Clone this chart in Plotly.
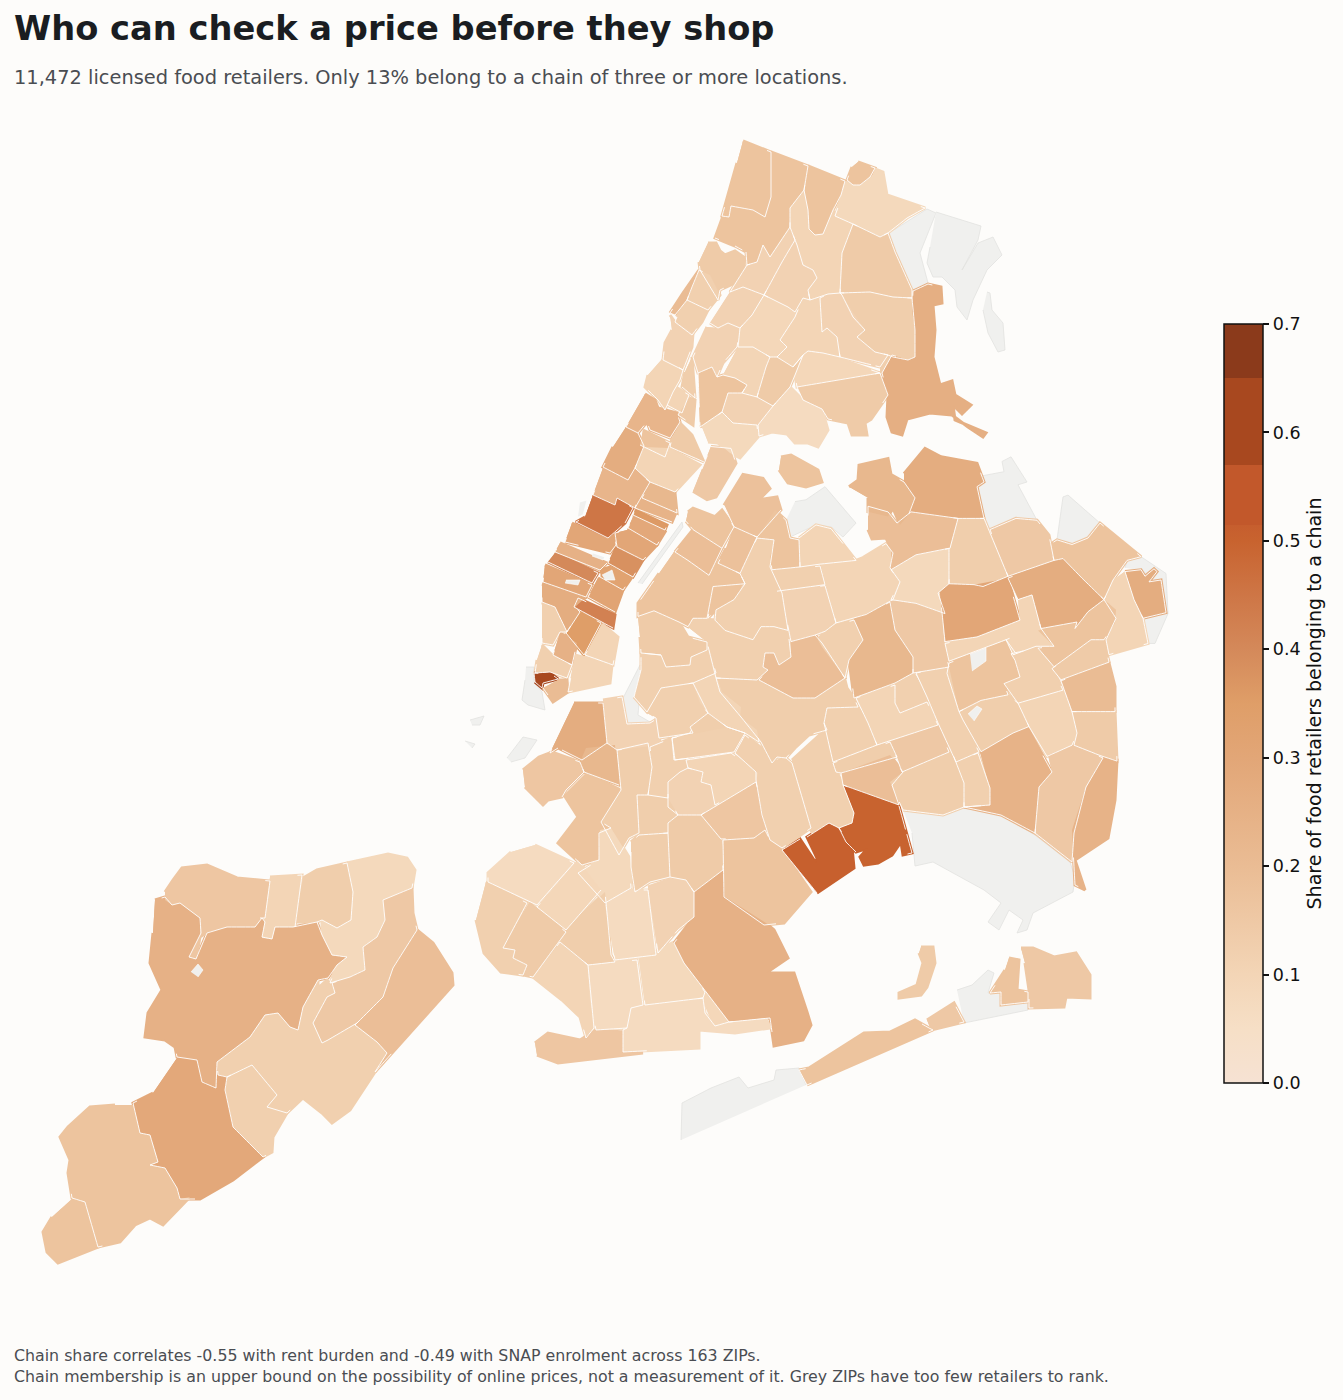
import math
import plotly.graph_objects as go

# share of chain retailers per ZIP, outlines (page pixels)
BRONX = [
    (0.17, "743,141 771,152 771,197 765,217 753,210 731,206 729,217 722,216 737,163"),
    (0.17, "771,152 808,166 804,190 790,208 790,227 770,257 763,245 757,262 747,265 746,252 735,246 715,238 723,216 731,206 753,210 765,217 771,197"),
    (0.17, "808,166 845,181 841,195 833,210 823,234 815,235 809,229 808,210 804,190"),
    (0.17, "858,162 875,168 870,177 860,185 853,185 847,180 852,167"),
    (0.08, "875,169 883,172 887,195 925,208 907,218 888,233 880,237 853,224 835,216 842,196 843,185 848,182 853,186 862,185 872,177"),
    (0.14, "853,224 880,237 888,233 895,252 912,290 912,298 893,297 870,292 840,293 842,253"),
    (0.10, "804,190 808,210 809,229 815,235 823,234 833,210 835,216 853,224 842,253 840,293 828,294 810,300 808,290 817,278 813,270 803,265 797,245 790,227 790,208"),
    (0.11, "790,227 795,240 782,262 764,295 743,287 730,292 747,265 757,262 763,245 770,257"),
    (0.11, "795,240 803,265 813,270 817,278 808,290 810,300 803,298 795,312 788,307 764,295 782,262"),
    (0.13, "840,293 870,292 893,297 912,298 915,330 915,357 908,360 893,357 888,355 875,352 857,337 865,330 853,317 842,295"),
    (0.11, "820,298 828,294 840,293 865,330 857,337 875,352 888,355 880,367 840,357 837,337 827,328 822,332"),
    (0.10, "803,298 820,298 822,332 827,328 837,337 840,357 823,353 808,351 803,355 793,367 777,357 787,347 780,340 795,317"),
    (0.09, "764,295 795,312 793,318 780,340 787,347 777,357 770,357 753,347 738,347 740,328 752,315"),
    (0.11, "730,292 743,287 764,295 752,315 740,328 728,323 718,328 710,323"),
    (0.11, "718,328 728,323 740,328 737,347 723,363 717,377 712,367 698,373 693,357 707,327"),
    (0.17, "698,373 712,367 717,377 723,375 735,378 747,385 742,393 728,393 722,412 700,427"),
    (0.10, "738,347 753,347 770,357 766,367 757,397 742,393 747,385 735,378 723,375"),
    (0.14, "770,357 777,357 793,367 803,355 795,375 790,387 773,406 757,397 766,367"),
    (0.09, "808,351 823,353 880,373 797,387 795,375 803,355"),
    (0.14, "797,387 880,373 888,395 880,407 872,418 860,410 870,420 865,423 867,435 852,435 848,423 828,419 822,409 803,400"),
    (0.26, "913,291 928,284 941,287 942,303 933,305 935,330 933,357 940,385 952,381 955,395 971,405 962,414 953,405 955,420 986,433 983,437 968,427 952,415 930,413 907,419 902,435 892,432 887,417 888,395 882,373 892,355 908,360 915,357 915,330 912,310"),
    (0.13, "880,367 888,355 892,355 882,373 880,373"),
    (0.07, "758,425 773,406 790,387 803,400 822,409 828,430 818,447 808,443 795,443 787,434 772,432 759,436"),
    (0.08, "702,427 722,412 733,423 757,425 758,437 740,458 730,453 718,443 708,442"),
    (0.11, "722,412 728,393 742,393 757,397 773,406 757,425 733,423"),
]

MANHATTAN = [
    (0.14, "708,243 716,243 720,251 725,255 735,251 745,258 743,270 735,283 720,290 718,300 712,290 700,270 699,262"),
    (0.12, "699,270 710,275 720,295 708,310 687,300 692,287"),
    (0.20, "670,313 683,293 699,270 692,287 687,300 675,315"),
    (0.12, "677,317 687,300 708,310 702,322 692,335 675,322"),
    (0.11, "670,315 675,322 693,333 692,347 683,370 663,360 665,343 672,330"),
    (0.10, "663,358 683,370 680,380 673,392 665,410 658,400 645,387 648,375"),
    (0.13, "692,357 695,398 682,387 685,372"),
    (0.10, "674,386 689,395 682,413 667,405"),
    (0.14, "689,398 695,400 693,425 678,415"),
    (0.23, "645,394 655,400 658,408 665,410 677,413 680,422 670,438 650,430 647,422 638,433 626,427"),
    (0.27, "626,427 638,433 644,446 635,468 628,480 603,467 613,447"),
    (0.17, "643,430 670,443 665,457 640,445"),
    (0.14, "680,423 692,435 704,462 670,447 672,438"),
    (0.10, "644,447 668,448 700,465 675,492 650,482 635,468"),
    (0.23, "603,468 628,480 635,470 650,482 635,508 617,498 615,505 593,495"),
    (0.22, "650,483 675,493 677,513 642,498"),
    (0.45, "593,495 615,505 617,498 633,508 625,523 608,538 576,522 585,517"),
    (0.24, "638,498 675,515 672,522 635,508"),
    (0.36, "635,510 667,525 665,530 633,515"),
    (0.29, "633,517 665,532 657,545 628,528"),
    (0.30, "627,530 657,545 643,560 617,547 615,533"),
    (0.30, "572,523 608,540 615,535 616,545 610,553 565,542"),
    (0.38, "615,547 643,560 633,577 608,563"),
    (0.25, "560,543 607,563 600,570 555,552"),
    (0.40, "555,553 598,573 592,583 548,562"),
    (0.32, "600,570 610,567 632,577 623,590 600,577"),
    (0.30, "545,565 592,585 586,597 543,582"),
    (0.31, "598,578 623,590 615,612 588,597"),
    (0.42, "578,598 615,615 613,628 574,607"),
    (0.27, "542,584 585,598 575,607 580,612 567,632 555,607 542,602"),
    (0.35, "580,612 601,623 584,655 566,633"),
    (0.12, "542,603 555,608 567,632 560,632 553,645 542,643"),
    (0.25, "560,633 577,643 572,665 553,655"),
    (0.10, "602,624 618,637 613,665 585,655"),
    (0.12, "542,645 553,656 572,665 567,678 550,672 535,673 537,660"),
    (0.10, "575,655 612,665 610,683 568,692"),
    (0.65, "534,673 547,674 550,673 558,679 543,683 542,688 535,682"),
    (0.20, "558,680 567,680 568,692 553,702 543,688"),
]

QUEENS_NORTH = [
    (0.15, "711,447 731,449 736,465 716,501 707,504 693,495"),
    (0.18, "724,510 743,477 763,481 770,492 759,504 777,501 781,515 757,544 734,533"),
    (0.17, "688,517 693,513 715,522 722,515 734,533 722,556 693,536 686,527"),
    (0.19, "675,560 693,536 722,556 709,585 688,569"),
    (0.18, "734,533 757,544 740,583 718,572 726,556"),
    (0.17, "674,560 688,569 709,585 718,572 740,583 745,594 713,597 707,631 693,631 688,640 679,635 654,623 638,629 638,615 659,583"),
    (0.12, "757,545 774,547 770,576 782,604 788,644 774,640 761,640 753,654 725,644 715,633 716,622 734,611 745,594 740,583"),
    (0.17, "713,597 743,590 734,611 716,622 708,631"),
    (0.17, "775,515 786,526 790,545 799,547 800,576 772,579 770,565 775,547 757,544"),
    (0.10, "799,545 816,531 831,535 843,551 856,569 820,573 800,576"),
    (0.12, "772,581 820,575 825,595 777,602"),
    (0.11, "782,602 825,596 836,636 825,645 815,649 791,656 786,629"),
    (0.10, "821,574 856,569 863,566 886,551 893,561 890,577 900,592 893,611 866,627 836,636"),
    (0.08, "891,579 916,563 949,556 949,594 938,604 945,626 916,615 891,611 900,592"),
    (0.19, "868,511 888,517 897,529 911,517 958,524 950,556 916,563 891,578 891,556 886,545 872,546 868,536"),
    (0.22, "849,490 858,483 859,467 888,460 891,477 904,485 915,502 909,519 900,531 893,513 888,522 868,517 868,502"),
    (0.27, "904,476 925,449 941,458 977,465 984,485 977,490 984,524 958,524 911,517 915,502 904,485"),
    (0.13, "958,524 984,524 1008,586 983,597 974,595 949,594 950,554"),
    (0.15, "990,536 1016,524 1037,526 1049,542 1054,569 1008,586"),
    (0.17, "1050,552 1057,547 1072,552 1088,545 1100,529 1141,565 1127,569 1113,590 1104,611 1082,588 1063,567 1054,569"),
    (0.27, "1125,581 1141,579 1145,586 1154,578 1157,581 1149,592 1161,590 1166,625 1143,631 1134,611"),
    (0.10, "1125,581 1134,611 1143,631 1148,658 1109,670 1106,654 1116,631 1104,611 1113,590"),
    (0.27, "1008,588 1054,569 1063,567 1082,588 1104,611 1088,624 1075,642 1077,635 1041,642 1032,606 1018,611"),
    (0.30, "940,604 949,594 974,595 1008,588 1020,633 977,651 945,656"),
    (0.10, "1018,611 1032,606 1041,642 1054,661 1036,661 1016,669 1006,654 949,677 945,658 977,651 1020,633"),
    (0.17, "1038,644 1077,635 1075,642 1088,624 1104,611 1116,622 1115,636 1104,654 1091,654 1054,683 1038,663 1054,661"),
    (0.14, "1052,685 1091,654 1104,654 1109,678 1061,697"),
    (0.20, "1061,698 1109,679 1115,704 1115,731 1072,731"),
    (0.14, "1072,731 1115,731 1117,784 1100,778 1074,767 1077,754"),
    (0.12, "1011,669 1036,663 1049,676 1063,708 1018,722 1004,701 1020,694 1015,676"),
    (0.10, "1006,654 1013,651 1018,669 1013,670"),
    (0.17, "949,679 1006,656 1020,694 1004,701 1008,713 981,719 959,731 947,690"),
    (0.13, "959,731 981,719 1008,713 1018,722 1029,747 1013,754 981,774 963,740"),
    (0.10, "1018,722 1063,708 1077,754 1072,767 1047,779 1029,747"),
]

QUEENS_SOUTH = [
    (0.17, "781,457 791,455 818,470 822,482 806,487 788,483 779,470"),
    (0.14, "638,617 654,611 679,622 688,637 707,642 707,650 691,657 690,665 666,667 661,655 641,653 640,637"),
    (0.12, "688,627 693,618 715,620 725,630 753,640 761,627 788,630 791,657 779,665 774,653 765,653 763,667 768,670 757,680 716,678 707,642"),
    (0.19, "791,642 815,635 822,643 845,678 815,698 793,698 759,680 768,670 763,667 765,653 774,653 779,665 791,657"),
    (0.12, "818,640 827,628 854,620 863,640 849,660 845,678 822,647"),
    (0.22, "854,620 890,602 895,630 913,657 913,673 895,683 854,698 849,660 863,640"),
    (0.15, "891,602 916,603 941,613 943,643 949,667 913,673 913,657 895,630"),
    (0.12, "916,673 949,667 959,712 979,752 956,762 938,723 927,697"),
    (0.10, "856,698 895,685 895,703 900,713 927,702 938,725 877,745 868,723"),
    (0.12, "895,685 913,673 927,697 927,702 900,713 895,703"),
    (0.13, "716,678 759,680 793,698 815,698 845,680 847,688 854,698 858,707 827,708 824,723 827,730 809,735 795,748 786,758 777,757 772,763 761,742 741,717 720,692"),
    (0.12, "827,708 858,707 868,723 877,745 833,762 824,723"),
    (0.13, "833,763 890,742 897,757 841,773 836,772"),
    (0.15, "891,742 938,725 949,752 902,772"),
    (0.19, "841,773 890,755 903,772 892,785 899,805 843,785"),
    (0.13, "890,782 903,772 952,752 964,783 964,807 943,815 903,810"),
    (0.12, "956,762 978,753 990,788 990,805 964,807 964,783"),
    (0.24, "980,752 1027,727 1052,772 1039,787 1035,833 1001,815 964,807 990,805 990,788"),
    (0.15, "1048,755 1074,745 1103,758 1086,787 1074,833 1072,862 1035,833 1039,787 1052,772"),
    (0.24, "1103,758 1117,760 1115,800 1108,838 1075,860 1085,890 1075,885 1072,830 1085,790"),
    (0.50, "843,785 899,806 912,853 903,855 901,842 892,855 878,863 864,865 860,857 868,848 856,852 846,842 839,828 852,823 854,813"),
    (0.51, "782,850 800,839 816,863 817,858 807,837 829,823 839,828 852,847 854,868 817,893"),
    (0.17, "799,1070 809,1068 864,1033 890,1032 915,1020 929,1028 933,1030 807,1085"),
    (0.15, "927,1020 954,1003 964,1022 931,1030"),
    (0.14, "921,947 933,947 935,963 927,987 921,995 899,998 899,993 917,985 923,963 919,953"),
    (0.17, "1009,958 1019,960 1017,990 1028,992 1028,1002 1001,1005 1001,992 990,993 1005,970"),
    (0.15, "1021,948 1033,948 1054,957 1076,953 1090,975 1090,998 1066,997 1064,1007 1029,1008 1029,990 1025,963"),
]

BROOKLYN = [
    (0.12, "641,670 641,653 661,655 666,667 690,665 691,657 709,650 716,673 693,683 661,688 647,712 634,697"),
    (0.12, "647,713 661,688 693,683 708,713 690,727 693,733 659,738 656,718"),
    (0.10, "693,683 716,675 722,692 741,707 740,717 757,730 759,742 745,733 727,727 708,713 700,703"),
    (0.13, "672,738 690,733 693,727 708,713 727,727 745,733 734,752 675,760"),
    (0.12, "735,753 745,735 764,750 772,763 786,758 792,763 811,828 782,848 770,840 762,815 756,780 756,772"),
    (0.12, "792,760 825,730 833,763 843,785 854,813 852,823 839,828 829,823 812,832 800,813"),
    (0.17, "723,840 754,838 765,830 770,840 782,850 811,892 784,923 764,925 724,897"),
    (0.16, "701,815 756,782 766,830 754,838 721,839"),
    (0.10, "686,760 731,753 758,773 756,782 715,805 711,785 701,782 703,772 688,768"),
    (0.12, "672,738 729,727 745,735 731,753 674,760"),
    (0.11, "680,772 688,768 703,772 701,782 711,785 715,805 701,815 678,815 668,807 668,782"),
    (0.13, "617,750 648,743 652,767 648,795 637,795 639,833 629,838 619,855 601,822 621,790"),
    (0.12, "650,747 672,738 674,760 686,760 688,768 680,772 668,782 668,798 648,795 652,767"),
    (0.27, "574,703 603,703 607,743 582,760 558,748 550,753"),
    (0.11, "603,700 622,697 627,724 650,723 658,718 660,745 617,750 607,743"),
    (0.16, "523,770 539,757 552,752 580,762 584,772 566,790 562,797 548,800 543,805 525,787"),
    (0.22, "586,748 615,745 619,785 584,772 580,762"),
    (0.17, "586,773 621,790 601,822 611,828 599,833 599,860 582,865 558,843 578,817 564,795"),
    (0.13, "631,842 639,835 668,833 670,877 650,882 635,892 631,867"),
    (0.13, "637,795 668,798 678,815 668,823 668,833 639,835"),
    (0.14, "678,815 701,815 721,839 723,870 694,892 686,880 670,877 668,823"),
    (0.08, "600,830 611,828 629,857 631,888 605,903 578,873 599,860"),
    (0.07, "535,845 574,863 537,905 488,882 488,873 511,852"),
    (0.09, "578,860 601,890 566,930 537,907"),
    (0.12, "486,882 527,903 511,933 503,948 515,950 513,958 527,965 523,975 501,972 484,953 476,920"),
    (0.14, "529,903 566,932 533,977 523,975 527,965 513,958 515,950 503,948 511,933"),
    (0.10, "560,942 588,965 594,1028 586,1038 580,1017 562,1000 533,977"),
    (0.13, "566,930 605,892 611,955 615,962 588,965 560,942"),
    (0.07, "605,905 631,890 648,890 656,955 615,960"),
    (0.11, "648,887 668,880 686,880 694,892 694,917 678,930 658,953"),
    (0.25, "694,893 723,872 725,897 766,923 774,930 788,958 766,973 794,973 807,1012 811,1025 803,1040 774,1046 770,1018 729,1022 684,963 674,943 694,917"),
    (0.07, "588,965 637,960 643,1005 631,1008 627,1028 596,1030 590,1000"),
    (0.08, "639,960 672,943 684,963 705,992 703,998 645,1005"),
    (0.07, "631,1008 703,998 705,1013 715,1026 729,1022 766,1018 770,1028 735,1033 699,1030 699,1048 623,1052 623,1030 627,1028"),
    (0.09, "705,992 729,1022 715,1026 703,998"),
    (0.16, "535,1043 548,1033 580,1040 596,1030 623,1032 623,1052 643,1053 558,1063 537,1055"),
]

STATEN_ISLAND = [
    (0.25, "155,900 165,897 172,905 180,903 200,918 201,933 189,957 196,959 207,933 227,927 255,927 262,918 265,922 262,937 272,939 275,927 293,927 317,922 322,935 332,955 347,957 337,965 328,978 318,980 303,1007 298,1030 290,1027 278,1013 265,1015 250,1037 217,1062 216,1088 202,1082 197,1060 177,1057 175,1047 165,1040 145,1037 148,1013 162,990 150,963 153,933"),
    (0.16, "165,892 173,880 182,868 207,865 237,878 270,881 265,918 260,918 255,927 227,927 210,930 200,937 196,959 189,957 200,937 200,918 180,903 172,905 165,900"),
    (0.10, "270,877 302,875 295,927 275,927 272,939 262,938 265,918"),
    (0.13, "303,878 317,870 347,863 353,892 351,920 337,928 322,920 317,922 295,922"),
    (0.08, "347,863 388,854 407,858 415,870 412,888 395,895 383,900 385,920 377,937 363,947 365,970 350,977 330,983 337,965 347,957 332,955 322,935 322,920 337,928 351,920 353,892"),
    (0.15, "395,895 412,888 413,913 417,930 393,968 383,997 357,1023 328,1040 322,1043 313,1023 327,997 335,993 332,983 350,977 365,970 363,947 377,937 385,920 383,900"),
    (0.19, "417,930 433,943 452,973 453,985 375,1072 387,1053 377,1042 355,1025 383,997 393,968"),
    (0.12, "217,1063 250,1037 265,1015 278,1013 290,1027 298,1030 303,1007 318,980 318,988 327,980 335,993 327,997 313,1023 322,1043 355,1025 377,1042 387,1053 375,1072 350,1110 332,1123 322,1113 303,1098 287,1113 267,1107 277,1095 252,1065 227,1077 218,1075"),
    (0.12, "227,1077 252,1065 277,1095 267,1107 287,1113 273,1137 272,1152 263,1157 243,1137 233,1127 225,1090"),
    (0.29, "177,1058 197,1060 202,1082 216,1088 218,1075 227,1077 225,1090 233,1127 243,1137 263,1157 233,1180 200,1199 180,1199 177,1188 165,1168 150,1165 158,1162 150,1135 140,1133 133,1103 153,1093"),
    (0.17, "133,1105 140,1133 150,1135 158,1162 150,1165 165,1168 177,1188 180,1199 190,1197 163,1225 150,1218 135,1225 120,1242 98,1247 85,1202 72,1198 68,1173 70,1160 60,1137 68,1127 90,1107 115,1105"),
    (0.17, "72,1199 85,1202 98,1247 77,1255 58,1263 47,1252 43,1232 52,1217"),
]

# too few retailers to rank
GREY_NORTH = [
    "795,506 806,504 825,490 856,529 843,544 831,533 816,531 790,544 786,526",
    "979,479 1004,474 1002,463 1011,458 1027,485 1018,488 1037,526 1016,524 990,536 984,522 977,490",
    "1057,547 1063,501 1068,499 1100,529 1088,545 1072,552",
    "1125,577 1127,569 1141,565 1166,583 1168,626 1155,658 1148,658 1143,631 1166,625 1161,590 1152,590 1143,580",
]
GREY_OTHER = [
    "889,233 927,209 936,213 920,253 928,283 913,291 895,252",
    "936,212 981,226 978,240 962,270 978,243 993,237 1002,255 987,270 973,300 967,320 957,307 955,290 942,277 933,277 927,263 930,247",
    "987,292 990,293 992,310 1003,323 1005,350 998,352 988,333 983,310",
    "526,667 534,667 534,682 542,692 545,710 528,705 522,700 525,680",
    "470,720 484,716 480,725 472,725",
    "465,741 475,744 472,748",
    "507,758 523,737 537,740 525,758 511,762",
    "638,583 682,522 683,527 642,584",
    "643,597 648,587 653,588 652,598",
    "622,700 640,665 652,650 655,655 640,690 638,715 650,722 627,724",
    "903,810 943,815 948,807 964,807 1001,815 1035,835 1070,862 1075,877 1073,892 1033,913 1027,930 1017,933 1023,920 1009,910 999,930 988,922 1001,903 984,890 933,862 915,866 912,833",
    "681,1140 682,1103 711,1088 739,1077 748,1088 774,1080 776,1070 799,1068 806,1085",
    "957,990 972,985 988,970 994,973 988,993 1001,992 1001,1005 1028,1002 1028,1010 964,1023",
]
# small unranked ZIPs inside ranked ones, these go on top
GREY_HOLES = [
    "191,972 198,964 203,970 198,977",
    "580,502 587,500 583,515 578,517",
    "593,553 605,557 603,560 592,556",
    "566,580 580,580 578,585 565,583",
    "602,575 612,570 615,580 605,580",
    "970,654 986,648 986,661 972,671",
    "968,714 977,706 982,709 974,721",
]

SCALE_VALUES = [0, 0.05, 0.1, 0.2, 0.3, 0.35, 0.4, 0.45, 0.5, 0.515, 0.515, 0.57, 0.57, 0.65, 0.65, 0.7]
SCALE_COLORS = ["#F6E2D3", "#F6DFC6", "#F3D5B6", "#EABC94", "#E2A677", "#DF9E68", "#D4895A", "#CE7646",
                "#C8632F", "#C65E2E", "#C2582B", "#C2582B", "#A8481F", "#A8481F", "#8B3A1B", "#8B3A1B"]
TICKS = [0, 0.1, 0.2, 0.3, 0.4, 0.5, 0.6, 0.7]

TITLE = "Who can check a price before they shop"
SUBTITLE = "11,472 licensed food retailers. Only 13% belong to a chain of three or more locations."
FOOT1 = "Chain share correlates -0.55 with rent burden and -0.49 with SNAP enrolment across 163 ZIPs."
FOOT2 = "Chain membership is an upper bound on the possibility of online prices, not a measurement of it. Grey ZIPs have too few retailers to rank."

W = 1343
H = 1400
BG = "#FDFCFA"
NEAR = 5
scale = [[v / 0.7, c] for v, c in zip(SCALE_VALUES, SCALE_COLORS)]


def parse(s):
    xs, ys = [], []
    for p in s.split():
        x, y = p.split(",")
        xs.append(float(x))
        ys.append(float(y))
    return xs, ys


def unstretch(ys):
    return [440 + (y - 440) * 2.8 / 3 for y in ys]


def color_for(v):
    # same lookup the colorbar does, stop to stop
    for i in range(len(SCALE_VALUES) - 1):
        a, b = SCALE_VALUES[i], SCALE_VALUES[i + 1]
        if a <= v <= b and b > a:
            t = (v - a) / (b - a)
            c1, c2 = SCALE_COLORS[i], SCALE_COLORS[i + 1]
            rgb = [round(int(c1[j:j + 2], 16) * (1 - t) + int(c2[j:j + 2], 16) * t) for j in (1, 3, 5)]
            return "rgb(%d,%d,%d)" % tuple(rgb)
    return SCALE_COLORS[-1]


def is_near(px, py, xs, ys):
    # inside the polygon, or within NEAR pixels of its edge
    if px < min(xs) - NEAR or px > max(xs) + NEAR or py < min(ys) - NEAR or py > max(ys) + NEAR:
        return False
    inside = False
    n = len(xs)
    for k in range(n):
        x1, y1, x2, y2 = xs[k], ys[k], xs[(k + 1) % n], ys[(k + 1) % n]
        if (y1 > py) != (y2 > py) and px < x1 + (py - y1) / (y2 - y1) * (x2 - x1):
            inside = not inside
        dx, dy = x2 - x1, y2 - y1
        t = max(0, min(1, ((px - x1) * dx + (py - y1) * dy) / (dx * dx + dy * dy or 1)))
        if math.hypot(px - x1 - t * dx, py - y1 - t * dy) < NEAR:
            return True
    return inside


fig = go.Figure()


def add_shape_trace(xs, ys, fill, line, width):
    fig.add_trace(go.Scatter(x=xs, y=ys, mode="lines", fill="toself", fillcolor=fill,
                             line=dict(color=line, width=width), hoverinfo="skip", showlegend=False))


greys = []
for s in GREY_NORTH:
    xs, ys = parse(s)
    greys.append((xs, unstretch(ys)))
for s in GREY_OTHER:
    greys.append(parse(s))
for xs, ys in greys:
    add_shape_trace(xs, ys, "#F0F0EE", "#E2E2E0", 0.8)

zips = []
for v, s in QUEENS_NORTH:
    xs, ys = parse(s)
    zips.append((v, xs, unstretch(ys)))
for group in [BRONX, MANHATTAN, QUEENS_SOUTH, BROOKLYN, STATEN_ISLAND]:
    for v, s in group:
        xs, ys = parse(s)
        zips.append((v, xs, ys))

# traced shapes don't quite touch: fat stroke first to close the slivers
for v, xs, ys in zips:
    add_shape_trace(xs, ys, color_for(v), color_for(v), 3)
for v, xs, ys in zips:
    add_shape_trace(xs, ys, color_for(v), "rgba(0,0,0,0)", 0)

# white borders only where a ZIP meets another one, once per pair, none on the coast
line_x, line_y = [], []
for i, (v, xs, ys) in enumerate(zips):
    n = len(xs)
    for k in range(n):
        x1, y1, x2, y2 = xs[k], ys[k], xs[(k + 1) % n], ys[(k + 1) % n]
        steps = max(1, math.ceil(math.hypot(x2 - x1, y2 - y1) / 5))
        for s in range(steps):
            ax, ay = x1 + (x2 - x1) * s / steps, y1 + (y2 - y1) * s / steps
            bx, by = x1 + (x2 - x1) * (s + 1) / steps, y1 + (y2 - y1) * (s + 1) / steps
            mx, my = (ax + bx) / 2, (ay + by) / 2
            hit = any(is_near(mx, my, z[1], z[2]) for z in zips[i + 1:])
            hit = hit or any(is_near(mx, my, g[0], g[1]) for g in greys)
            if hit:
                line_x += [ax, bx, None]
                line_y += [ay, by, None]

fig.add_trace(go.Scatter(x=line_x, y=line_y, mode="lines", line=dict(color="white", width=0.9),
                         hoverinfo="skip", showlegend=False))

for s in GREY_HOLES:
    xs, ys = parse(s)
    add_shape_trace(xs, ys, "#F0F0EE", "white", 0.6)

# offscreen trace, only there for the colorbar
fig.add_trace(go.Scatter(
    x=[-50, -50], y=[-50, -50], mode="markers", showlegend=False, hoverinfo="skip",
    marker=dict(color=[0, 0.7], cmin=0, cmax=0.7, colorscale=scale, showscale=True, size=1,
                colorbar=dict(
                    x=1224 / W, xanchor="left", y=1 - 324 / H, yanchor="top",
                    lenmode="pixels", len=759, thicknessmode="pixels", thickness=39,
                    outlinecolor="#111111", outlinewidth=1.5, xpad=0, ypad=0,
                    tickvals=TICKS, tickformat=".1f", ticks="outside", ticklen=6, tickwidth=1.5,
                    tickprefix="\u2009", ticksuffix="\u2009",
                    tickcolor="#111111", tickfont=dict(family="DejaVu Sans", size=17.5, color="#111111"),
                    title=dict(text="Share of food retailers belonging to a chain", side="right",
                               font=dict(family="DejaVu Sans", size=19, color="#111111")),
                )),
))


def add_text(text, y, size, color, bold=False):
    fig.add_annotation(text="<b>" + text + "</b>" if bold else text, x=12 / W, y=1 - y / H,
                       xref="paper", yref="paper", xanchor="left", yanchor="middle", showarrow=False,
                       font=dict(family="DejaVu Sans", size=size, color=color))


add_text(TITLE, 28, 33.7, "#1A1D21", bold=True)
add_text(SUBTITLE, 77, 19.4, "#4A4D52")
add_text(FOOT1, 1355, 15.8, "#4A4D52")
add_text(FOOT2, 1376, 15.8, "#4A4D52")

fig.update_xaxes(range=[0, W], visible=False)
fig.update_yaxes(range=[H, 0], visible=False)
fig.update_layout(width=W, height=H, margin=dict(l=0, r=0, t=0, b=0),
                  paper_bgcolor=BG, plot_bgcolor=BG)

fig.write_html("out.html", config=dict(displayModeBar=False),
               post_script="document.body.style.margin='0';document.body.style.background='" + BG + "';")
